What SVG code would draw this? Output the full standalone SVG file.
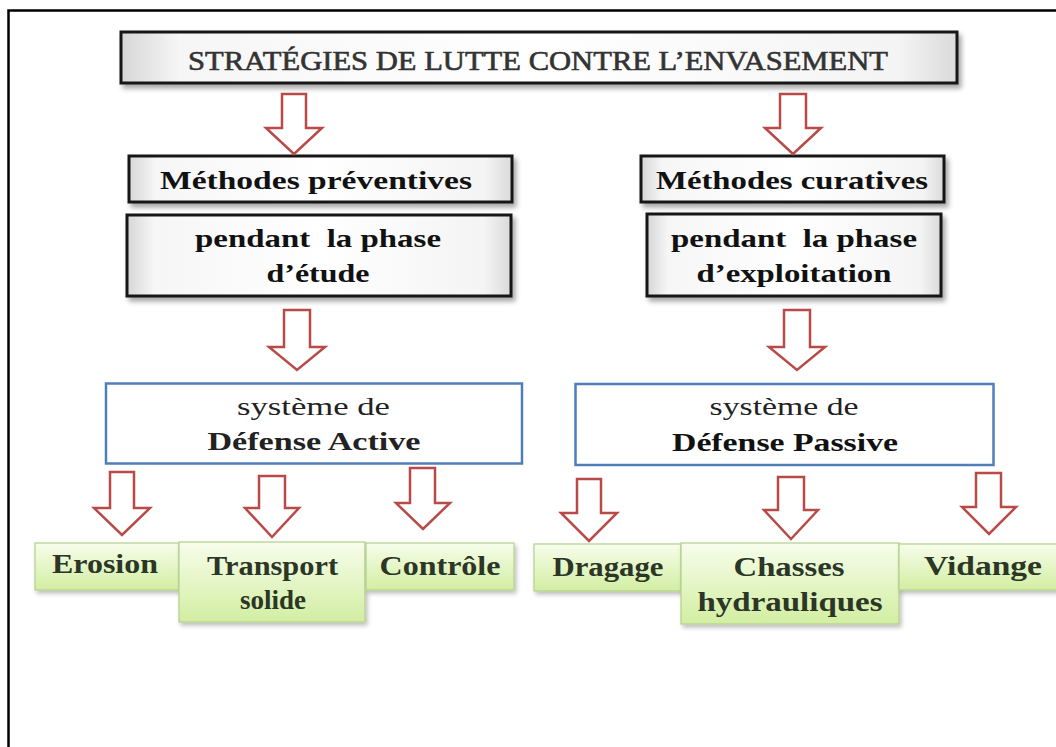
<svg xmlns="http://www.w3.org/2000/svg" width="1056" height="747" viewBox="0 0 1056 747">
<defs>
<linearGradient id="gBlack" x1="0" y1="0" x2="1" y2="0">
<stop offset="0" stop-color="#d6d6d6"/>
<stop offset="0.07" stop-color="#f6f6f6"/>
<stop offset="0.5" stop-color="#ffffff"/>
<stop offset="0.93" stop-color="#f4f4f4"/>
<stop offset="1" stop-color="#dadada"/>
</linearGradient>
<linearGradient id="gGreen" x1="0" y1="0" x2="0" y2="1">
<stop offset="0" stop-color="#f7fdeb"/>
<stop offset="1" stop-color="#d2eea2"/>
</linearGradient>
<filter id="sh" x="-10%" y="-20%" width="125%" height="150%">
<feDropShadow dx="3" dy="4" stdDeviation="2.5" flood-color="#000" flood-opacity="0.35"/>
</filter>
<filter id="shg" x="-10%" y="-20%" width="125%" height="150%">
<feDropShadow dx="2" dy="3" stdDeviation="2" flood-color="#000" flood-opacity="0.25"/>
</filter>
</defs>
<style>
.bk{fill:url(#gBlack);stroke:#161616;stroke-width:3;filter:url(#sh)}
.bl{fill:#fff;stroke:#4f7fb8;stroke-width:2.5}
.gr{fill:url(#gGreen);stroke:#b2d18a;stroke-width:1.2;filter:url(#shg)}
.ar{fill:#fff;stroke:#b84a47;stroke-width:2.5;stroke-linejoin:miter}
text{font-family:"Liberation Serif","DejaVu Serif",serif;text-anchor:middle}
.tb{font-size:26px;font-weight:bold;fill:#111}
.tt{font-size:27px;fill:#333;stroke:#333;stroke-width:0.6}
.tn{font-size:26px;fill:#222}
.tg{font-size:27px;font-weight:bold;fill:#2b3626}
</style>
<rect x="8.5" y="10.5" width="1100" height="800" fill="none" stroke="#000" stroke-width="2.5"/>

<g id="title">
<rect class="bk" x="121" y="32" width="836" height="51"/>
<text class="tt" x="538" y="70" textLength="700" lengthAdjust="spacingAndGlyphs">STRATÉGIES DE LUTTE CONTRE L’ENVASEMENT</text>
</g>
<g id="methodes-preventives">
<rect class="bk" x="129" y="156" width="383" height="46"/>
<text class="tb" x="316" y="189" textLength="312" lengthAdjust="spacingAndGlyphs">Méthodes préventives</text>
</g>
<g id="phase-etude">
<rect class="bk" x="127" y="215" width="384" height="81"/>
<text class="tb" x="318" y="247" textLength="246" lengthAdjust="spacingAndGlyphs" xml:space="preserve">pendant  la phase</text>
<text class="tb" x="318" y="282" textLength="103" lengthAdjust="spacingAndGlyphs">d’étude</text>
</g>
<g id="methodes-curatives">
<rect class="bk" x="641" y="156" width="303" height="46"/>
<text class="tb" x="792" y="189" textLength="272" lengthAdjust="spacingAndGlyphs">Méthodes curatives</text>
</g>
<g id="phase-exploitation">
<rect class="bk" x="647" y="214" width="294" height="82"/>
<text class="tb" x="794" y="247" textLength="246" lengthAdjust="spacingAndGlyphs" xml:space="preserve">pendant  la phase</text>
<text class="tb" x="794" y="282" textLength="195" lengthAdjust="spacingAndGlyphs">d’exploitation</text>
</g>
<g id="defense-active">
<rect class="bl" x="106" y="383.5" width="416" height="80"/>
<text class="tn" x="313.5" y="415" textLength="153" lengthAdjust="spacingAndGlyphs">système de</text>
<text class="tb" x="314" y="450" textLength="213" lengthAdjust="spacingAndGlyphs" style="fill:#222">Défense Active</text>
</g>
<g id="defense-passive">
<rect class="bl" x="575.5" y="384" width="418" height="81"/>
<text class="tn" x="784" y="415" textLength="149" lengthAdjust="spacingAndGlyphs">système de</text>
<text class="tb" x="785" y="451" textLength="226" lengthAdjust="spacingAndGlyphs">Défense Passive</text>
</g>
<g id="erosion">
<rect class="gr" x="35" y="543" width="144" height="47"/>
<text class="tg" x="105" y="573" textLength="106" lengthAdjust="spacingAndGlyphs">Erosion</text>
</g>
<g id="transport">
<rect class="gr" x="179" y="542" width="186" height="80"/>
<text class="tg" x="272.5" y="575" textLength="131" lengthAdjust="spacingAndGlyphs">Transport</text>
<text class="tg" x="273" y="609" textLength="66" lengthAdjust="spacingAndGlyphs">solide</text>
</g>
<g id="controle">
<rect class="gr" x="366" y="543" width="148" height="47"/>
<text class="tg" x="440" y="575" textLength="121" lengthAdjust="spacingAndGlyphs">Contrôle</text>
</g>
<g id="dragage">
<rect class="gr" x="534" y="544" width="147" height="47"/>
<text class="tg" x="608" y="576" textLength="111" lengthAdjust="spacingAndGlyphs">Dragage</text>
</g>
<g id="chasses">
<rect class="gr" x="681" y="543" width="218" height="81"/>
<text class="tg" x="789" y="576" textLength="111" lengthAdjust="spacingAndGlyphs">Chasses</text>
<text class="tg" x="790" y="611" textLength="185" lengthAdjust="spacingAndGlyphs">hydrauliques</text>
</g>
<g id="vidange">
<rect class="gr" x="899" y="544" width="170" height="46"/>
<text class="tg" x="983" y="575" textLength="118" lengthAdjust="spacingAndGlyphs">Vidange</text>
</g>

<g id="connectors">
<path class="ar" d="M282,94 H306 V128 H322 L294,154 L266,128 H282 Z"/>
<path class="ar" d="M780,94 H806 V128 H821 L793,154 L765,128 H780 Z"/>
<path class="ar" d="M284,310 H310 V347 H325 L297,370 L269,347 H284 Z"/>
<path class="ar" d="M784,310 H810 V347 H825 L797,370 L769,347 H784 Z"/>
<path class="ar" d="M110,472 H134 V508 H150 L122,535 L94,508 H110 Z"/>
<path class="ar" d="M259,476 H285 V508 H299 L272,537 L245,508 H259 Z"/>
<path class="ar" d="M410,468 H435 V503 H450 L423,529 L396,503 H410 Z"/>
<path class="ar" d="M577,479 H601 V513 H617 L589,541 L561,513 H577 Z"/>
<path class="ar" d="M778,477 H804 V510 H818 L791,539 L764,510 H778 Z"/>
<path class="ar" d="M976,473 H1001 V507 H1016 L989,534 L962,507 H976 Z"/>
</g>
</svg>
